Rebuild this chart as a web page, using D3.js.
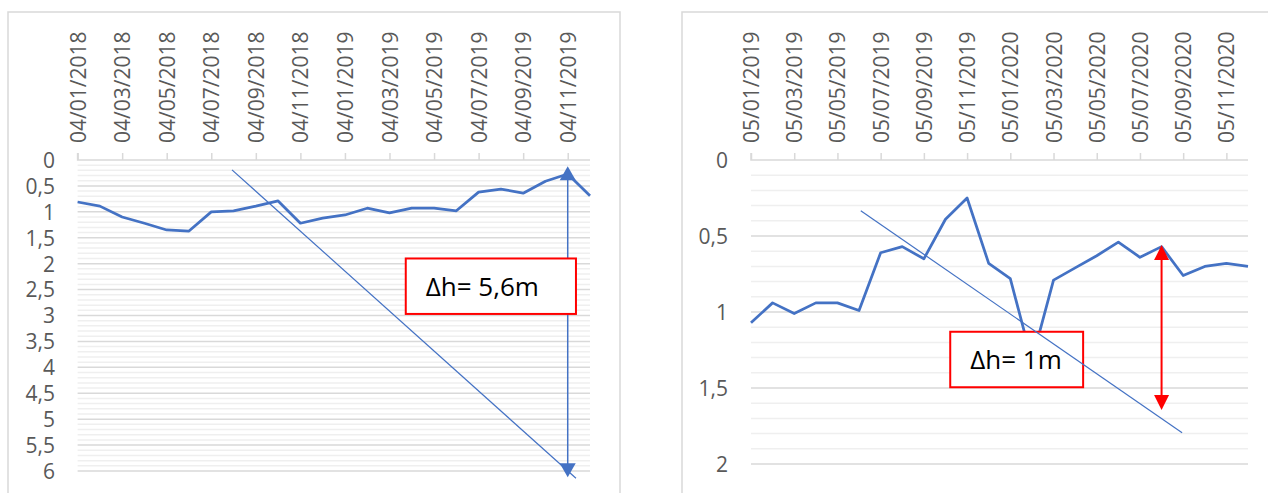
<!DOCTYPE html>
<html>
<head>
<meta charset="utf-8">
<script src="https://cdn.jsdelivr.net/npm/d3@7"></script>
<style>
  html, body { margin: 0; padding: 0; background: #fff; }
  svg { display: block; }
  text { font-family: "Open Sans", "Noto Sans", sans-serif; }
</style>
</head>
<body>
<svg id="chart" width="1268" height="493"></svg>
<script>
// Monthly water-table depth readings (m below ground), two wells.
const leftDates = [
  "04/01/2018","04/02/2018","04/03/2018","04/04/2018","04/05/2018","04/06/2018",
  "04/07/2018","04/08/2018","04/09/2018","04/10/2018","04/11/2018","04/12/2018",
  "04/01/2019","04/02/2019","04/03/2019","04/04/2019","04/05/2019","04/06/2019",
  "04/07/2019","04/08/2019","04/09/2019","04/10/2019","04/11/2019","04/12/2019"
];
const leftDepth = [
  0.81, 0.89, 1.10, 1.22, 1.35, 1.37, 1.00, 0.98, 0.89, 0.79, 1.22, 1.12,
  1.06, 0.93, 1.02, 0.93, 0.93, 0.98, 0.62, 0.56, 0.64, 0.41, 0.27, 0.69
];
const rightDates = [
  "05/01/2019","05/02/2019","05/03/2019","05/04/2019","05/05/2019","05/06/2019",
  "05/07/2019","05/08/2019","05/09/2019","05/10/2019","05/11/2019","05/12/2019",
  "05/01/2020","05/02/2020","05/03/2020","05/04/2020","05/05/2020","05/06/2020",
  "05/07/2020","05/08/2020","05/09/2020","05/10/2020","05/11/2020","05/12/2020"
];
const rightDepth = [
  1.07, 0.94, 1.01, 0.94, 0.94, 0.99, 0.61, 0.57, 0.65, 0.39, 0.25, 0.68,
  0.78, 1.32, 0.79, 0.71, 0.63, 0.54, 0.64, 0.57, 0.76, 0.70, 0.68, 0.70
];
const leftYTicks = [0, 0.5, 1, 1.5, 2, 2.5, 3, 3.5, 4, 4.5, 5, 5.5, 6];
const rightYTicks = [0, 0.5, 1, 1.5, 2];

// Annotations, in (month index, depth) units
const leftTrend = [[6.93, 0.19], [22.37, 6.14]];
const leftSpan = { i: 22, from: 0.12, to: 6.12 };
const leftNote = { text: "\u0394h= 5,6m", i0: 14.73, i1: 22.37, v0: 1.90, v1: 2.97 };
const rightTrend = [[5.08, 0.334], [19.95, 1.794]];
const rightSpan = { i: 19, from: 0.56, to: 1.645 };
const rightNote = { text: "\u0394h= 1m", i0: 9.22, i1: 15.37, v0: 1.13, v1: 1.495 };

const svg = d3.select("#chart");
const BLUE = "#4472C4";
const GRID_MAJOR = "#d9d9d9";
const GRID_MINOR = "#efefef";
const TEXT = "#595959";

function panel(cfg) {
  const g = svg.append("g");
  // chart frame
  g.append("rect")
    .attr("x", cfg.frame[0]).attr("y", cfg.frame[1])
    .attr("width", cfg.frame[2]).attr("height", cfg.frame[3])
    .attr("fill", "#fff").attr("stroke", "#d9d9d9").attr("stroke-width", 1.5);

  const x = d3.scaleLinear().domain([0, cfg.dates.length - 1]).range(cfg.xRange);
  const y = d3.scaleLinear().domain(cfg.yDomain).range(cfg.yRange);

  // minor gridlines every 0.1
  const minor = d3.range(0, cfg.yDomain[1] + 1e-9, 0.1).map(v => +v.toFixed(2))
    .filter(v => !cfg.yTicks.some(t => Math.abs(t - v) < 1e-6));
  g.append("g").selectAll("line").data(minor).join("line")
    .attr("x1", cfg.xRange[0]).attr("x2", cfg.xRange[1])
    .attr("y1", d => y(d)).attr("y2", d => y(d))
    .attr("stroke", GRID_MINOR).attr("stroke-width", 1.5);
  // major gridlines
  g.append("g").selectAll("line").data(cfg.yTicks.filter(v => v > 0)).join("line")
    .attr("x1", cfg.xRange[0]).attr("x2", cfg.xRange[1])
    .attr("y1", d => y(d)).attr("y2", d => y(d))
    .attr("stroke", GRID_MAJOR).attr("stroke-width", 1.5);

  // y axis labels
  const yAxis = d3.axisLeft(y).tickValues(cfg.yTicks).tickSize(0).tickPadding(0)
    .tickFormat(d => String(d).replace(".", ","));
  const ya = g.append("g").attr("transform", `translate(${cfg.yLabelX},0)`).call(yAxis);
  ya.select(".domain").remove();
  ya.selectAll("text").attr("fill", TEXT).style("font-size", "21px")
    .style("font-family", '"Open Sans", sans-serif').attr("dy", "0.35em");

  // category axis along the top (depth 0)
  const xAxis = d3.axisTop(x)
    .tickValues(d3.range(0, cfg.dates.length, 2))
    .tickSize(7).tickSizeOuter(0)
    .tickFormat(i => cfg.dates[i]);
  const xa = g.append("g").attr("transform", `translate(0,${y(0)})`).call(xAxis);
  xa.select(".domain").attr("stroke", GRID_MAJOR).attr("stroke-width", 1.5)
    .attr("d", `M${cfg.xRange[0]},-7V0H${cfg.xRange[1]}`);
  xa.selectAll(".tick line").attr("stroke", GRID_MAJOR).attr("stroke-width", 1.5);
  xa.selectAll(".tick text")
    .attr("fill", TEXT).style("font-size", "21px")
    .style("font-family", '"Open Sans", sans-serif')
    .attr("text-anchor", "start")
    .attr("transform", `translate(0,${cfg.labelBottom - y(0)}) rotate(-90)`)
    .attr("x", 0).attr("y", 0).attr("dy", "0.36em");

  // depth series
  const line = d3.line().x((d, i) => x(i)).y(d => y(d));
  g.append("path").datum(cfg.values)
    .attr("d", line).attr("fill", "none")
    .attr("stroke", BLUE).attr("stroke-width", 2.75)
    .attr("stroke-linejoin", "round");

  // vertical span arrow
  const sx = x(cfg.span.i), sy0 = y(cfg.span.from), sy1 = y(cfg.span.to);
  const ah = cfg.arrow.h, aw = cfg.arrow.w;
  g.append("line")
    .attr("x1", sx).attr("x2", sx).attr("y1", sy0 + ah * 0.8).attr("y2", sy1 - ah * 0.8)
    .attr("stroke", cfg.arrow.color).attr("stroke-width", cfg.arrow.lw);
  if (cfg.arrow.both || true) {
    g.append("path")
      .attr("d", `M${sx},${sy0}L${sx - aw / 2},${sy0 + ah}L${sx + aw / 2},${sy0 + ah}Z`)
      .attr("fill", cfg.arrow.color);
    g.append("path")
      .attr("d", `M${sx},${sy1}L${sx - aw / 2},${sy1 - ah}L${sx + aw / 2},${sy1 - ah}Z`)
      .attr("fill", cfg.arrow.color);
  }

  // note box
  const n = cfg.note;
  const bx = x(n.i0), by = y(n.v0), bw = x(n.i1) - x(n.i0), bh = y(n.v1) - y(n.v0);
  g.append("rect").attr("x", bx).attr("y", by).attr("width", bw).attr("height", bh)
    .attr("fill", "#fff").attr("stroke", "#ff0000").attr("stroke-width", 2);
  g.append("text").attr("x", bx + 20).attr("y", by + bh / 2)
    .attr("dy", "0.36em")
    .attr("fill", "#000").style("font-size", "26px")
    .text(n.text);

  // trend line
  g.append("line")
    .attr("x1", x(cfg.trend[0][0])).attr("y1", y(cfg.trend[0][1]))
    .attr("x2", x(cfg.trend[1][0])).attr("y2", y(cfg.trend[1][1]))
    .attr("stroke", BLUE).attr("stroke-width", 1.2);
}

panel({
  frame: [8, 12, 612, 500],
  dates: leftDates, values: leftDepth,
  xRange: [77.6, 590], yDomain: [0, 6], yRange: [160, 471],
  yTicks: leftYTicks, yLabelX: 55, labelBottom: 143,
  trend: leftTrend, span: leftSpan, note: leftNote,
  arrow: { color: BLUE, w: 16, h: 14, lw: 1.5 }
});

panel({
  frame: [682, 12, 600, 500],
  dates: rightDates, values: rightDepth,
  xRange: [751, 1248], yDomain: [0, 2], yRange: [160, 464],
  yTicks: rightYTicks, yLabelX: 728, labelBottom: 143,
  trend: rightTrend, span: rightSpan, note: rightNote,
  arrow: { color: "#ff0000", w: 15, h: 15, lw: 2 }
});
</script>
</body>
</html>
